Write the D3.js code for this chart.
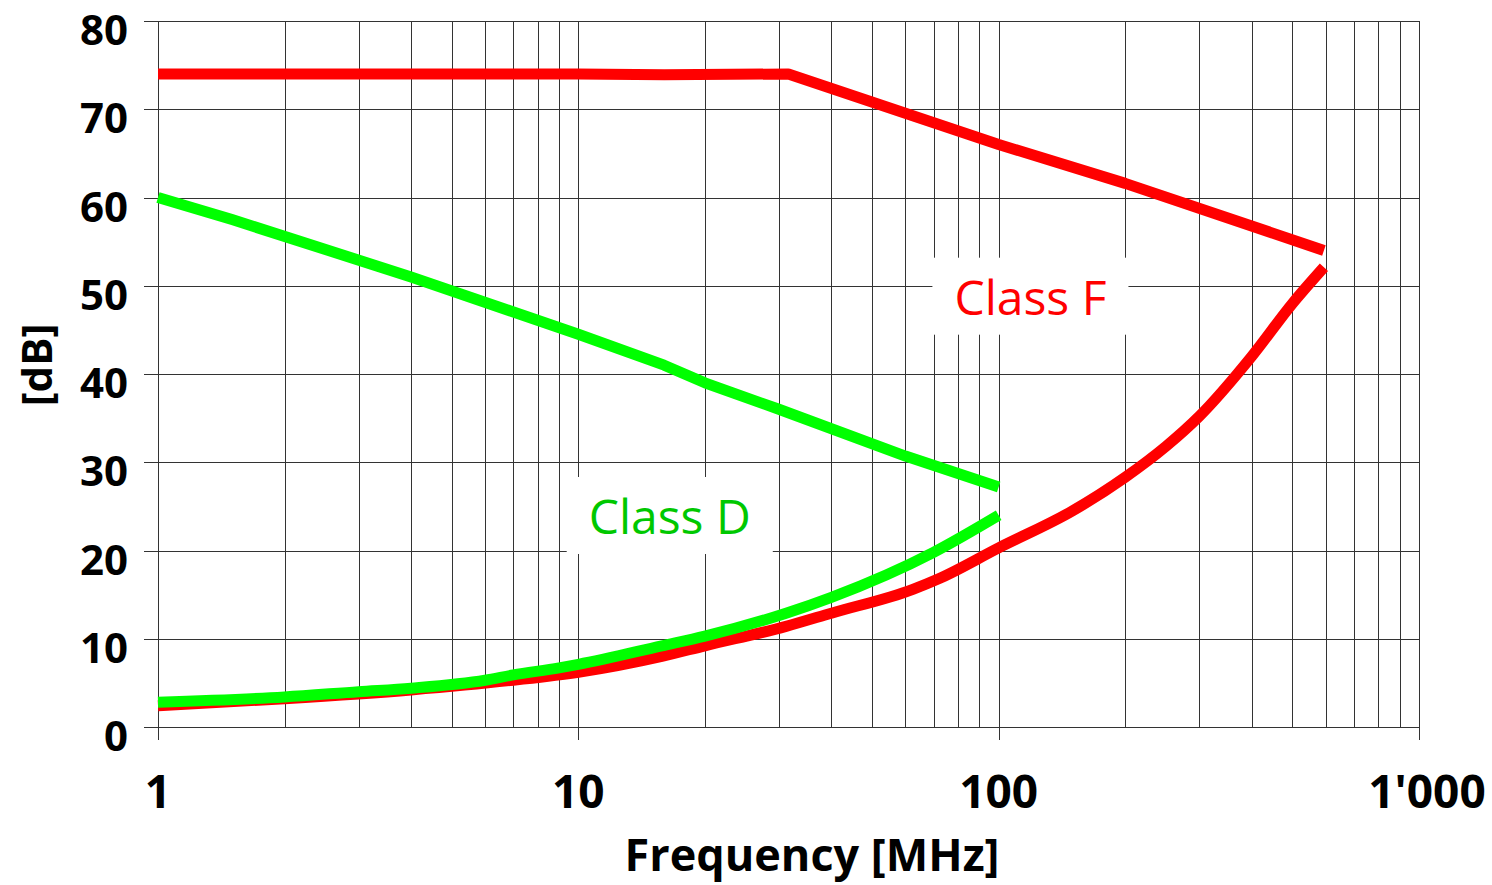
<!DOCTYPE html>
<html><head><meta charset="utf-8">
<script src="https://cdn.jsdelivr.net/npm/d3@7"></script>
<style>body{margin:0;background:#fff}</style>
</head><body>
<svg id="c" width="1492" height="885"></svg>
<script>
const yTicks = [0,10,20,30,40,50,60,70,80];
const xMajor = [1,10,100,1000];
const xMajorLabels = ["1","10","100","1'000"];
const classFUpper = [[1,74],[4,74],[10,74],[16,73.9],[31.6,74],[63,69.2],[100,66],[200,61.6],[594,54]];
const classFLower = [[1,2.4],[2,3.2],[4,4.2],[7,5.3],[10,6.2],[15.8,8],[20,9.2],[31.2,11.4],[40,12.9],[62.5,15.6],[72,16.8],[100,20.3],[150,24.5],[200,28.3],[250,31.8],[300,35.2],[400,42],[500,48],[594,52.1]];
const classDUpper = [[1,60],[1.5,57.5],[4,51],[10,44.5],[16,41],[20,39],[30,36],[60,30.7],[100,27.2]];
const classDLower = [[1,2.8],[2,3.4],[3,4],[4,4.4],[6,5.3],[7,5.9],[9,6.7],[10,7.1],[15.8,9.2],[20,10.3],[31.2,12.9],[40,14.7],[70,19.8],[100,24]];

const svg = d3.select("#c");
const x = d3.scaleLog().domain([1,1000]).range([158,1419]);
const y = d3.scaleLinear().domain([0,80]).range([727,21]);
const font = "'Open Sans', sans-serif";

// grid
const minor = [];
for (let d=1; d<1000; d*=10) for (let k=1;k<=9;k++) minor.push(d*k);
minor.push(1000);
const g = svg.append("g").attr("shape-rendering","crispEdges");
g.selectAll("line.v").data(minor).join("line")
  .attr("x1",d=>Math.round(x(d))+0.5).attr("x2",d=>Math.round(x(d))+0.5)
  .attr("y1",y(80)).attr("y2",y(0)).attr("stroke","#333").attr("stroke-width",1);
g.selectAll("line.h").data(yTicks).join("line")
  .attr("x1",144).attr("x2",x(1000))
  .attr("y1",d=>Math.round(y(d))+0.5).attr("y2",d=>Math.round(y(d))+0.5)
  .attr("stroke","#333").attr("stroke-width",1);
g.selectAll("line.xt").data(xMajor).join("line")
  .attr("x1",d=>Math.round(x(d))+0.5).attr("x2",d=>Math.round(x(d))+0.5)
  .attr("y1",y(0)).attr("y2",y(0)+13).attr("stroke","#333");

const labels = [
  {text:"Class F", f:119, v:49.1, color:"#ff0000"},
  {text:"Class D", f:16.5, v:24.25, color:"#00c800"}
];

// lines
const lineStraight = d3.line().x(d=>x(d[0])).y(d=>y(d[1]));
const lineSmooth = d3.line().x(d=>x(d[0])).y(d=>y(d[1])).curve(d3.curveMonotoneX);
const series = [
  {d:classFLower,c:"#ff0000",l:lineSmooth},
  {d:classDLower,c:"#00ff00",l:lineSmooth},
  {d:classFUpper,c:"#ff0000",l:lineStraight},
  {d:classDUpper,c:"#00ff00",l:lineStraight}
];
svg.selectAll("path.s").data(series).join("path")
  .attr("d",s=>s.l(s.d)).attr("fill","none").attr("stroke",s=>s.c)
  .attr("stroke-width",11).attr("stroke-linejoin","round");

labels.forEach(l=>{
  const t = svg.append("text").attr("x",x(l.f)).attr("y",y(l.v)+21)
    .attr("text-anchor","middle").attr("font-family",font).attr("font-size",48)
    .attr("fill",l.color).text(l.text);
  const bb = t.node().getBBox();
  svg.insert("rect","text").attr("x",bb.x-22).attr("y",bb.y-6)
    .attr("width",bb.width+44).attr("height",bb.height+12).attr("fill","#fff");
});

// tick labels
svg.selectAll("text.yl").data(yTicks).join("text")
  .attr("x",128).attr("y",d=>y(d)+24).attr("text-anchor","end")
  .attr("font-family",font).attr("font-weight",700).attr("font-size",42)
  .text(d=>d);
svg.selectAll("text.xl").data(xMajor).join("text")
  .attr("x",(d,i)=>x(d)+(i===3?8:0)).attr("y",808).attr("text-anchor","middle")
  .attr("font-family",font).attr("font-weight",700).attr("font-size",46)
  .text((d,i)=>xMajorLabels[i]);

svg.append("text").attr("x",812).attr("y",871).attr("text-anchor","middle")
  .attr("font-family",font).attr("font-weight",700).attr("font-size",45)
  .text("Frequency [MHz]");
svg.append("text").attr("transform","translate(52,365) rotate(-90)")
  .attr("text-anchor","middle")
  .attr("font-family",font).attr("font-weight",700).attr("font-size",42)
  .text("[dB]");
</script>
</body></html>
